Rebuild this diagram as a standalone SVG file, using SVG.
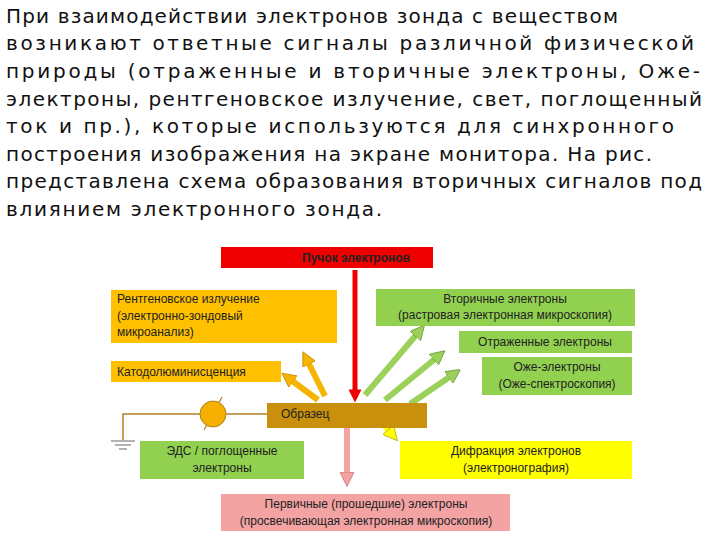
<svg xmlns="http://www.w3.org/2000/svg" width="720" height="540" viewBox="0 0 720 540">
<style>
.t{font-family:"DejaVu Sans",sans-serif;font-size:20px;fill:#111}
.b{font-family:"Liberation Sans",Arial,sans-serif;font-size:12px;fill:#222}
.c{text-anchor:middle}
.or{fill:#ffc000}.gr{fill:#92d050}.ye{fill:#ffff00}.pk{fill:#f4a3a3}
</style>
<defs>
<marker id="ao" viewBox="0 0 10 10" refX="2" refY="5" markerWidth="2.4" markerHeight="2.4" orient="auto"><path d="M0,0L10,5L0,10z" fill="#f5b400" stroke="#c08000" stroke-width="0.5"/></marker>
<marker id="ag" viewBox="0 0 10 10" refX="2" refY="5" markerWidth="2.4" markerHeight="2.4" orient="auto"><path d="M0,0L10,5L0,10z" fill="#9bd15a" stroke="#5f8f2f" stroke-width="0.5"/></marker>
<marker id="ar" viewBox="0 0 10 10" refX="2" refY="5" markerWidth="3" markerHeight="2.6" orient="auto"><path d="M0,0L10,5L0,10z" fill="#ee0000"/></marker>
<marker id="ap" viewBox="0 0 10 10" refX="2" refY="5" markerWidth="2.6" markerHeight="2.4" orient="auto"><path d="M0,0L10,5L0,10z" fill="#f4a3a3" stroke="#c07070" stroke-width="0.5"/></marker>
<marker id="ay" viewBox="0 0 10 10" refX="2" refY="5" markerWidth="2.6" markerHeight="2.4" orient="auto"><path d="M0,0L10,5L0,10z" fill="#ffff00" stroke="#b0a000" stroke-width="0.5"/></marker>
</defs>
<g id="intro" class="t">
<text x="6" y="23" textLength="612" lengthAdjust="spacing">При взаимодействии электронов зонда с веществом</text>
<text x="6" y="50" textLength="688" lengthAdjust="spacing">возникают ответные сигналы различной  физической</text>
<text x="6" y="78" textLength="694" lengthAdjust="spacing">природы (отраженные и  вторичные  электроны,  Оже-</text>
<text x="6" y="106" textLength="696" lengthAdjust="spacing">электроны, рентгеновское  излучение,  свет,  поглощенный</text>
<text x="6" y="133" textLength="668" lengthAdjust="spacing">ток  и  пр.),  которые  используются  для синхронного</text>
<text x="6" y="161" textLength="646" lengthAdjust="spacing">построения изображения на экране монитора. На рис.</text>
<text x="6" y="188" textLength="696" lengthAdjust="spacing">представлена схема образования вторичных сигналов под</text>
<text x="6" y="216" textLength="376" lengthAdjust="spacing">влиянием электронного зонда.</text>
</g>
<g id="connectors">
<line x1="355" y1="270" x2="355" y2="392" stroke="#ee0000" stroke-width="5" marker-end="url(#ar)"/>
<line x1="347" y1="412" x2="347" y2="475" stroke="#f4a3a3" stroke-width="6" marker-end="url(#ap)"/>
<line x1="373" y1="412" x2="390" y2="432" stroke="#ffff00" stroke-width="6" marker-end="url(#ay)"/>
<line x1="325" y1="396" x2="308" y2="362" stroke="#f5b400" stroke-width="6" marker-end="url(#ao)"/>
<line x1="318" y1="400" x2="291" y2="380" stroke="#f5b400" stroke-width="6" marker-end="url(#ao)"/>
<line x1="365" y1="395" x2="417" y2="334" stroke="#9bd15a" stroke-width="6" marker-end="url(#ag)"/>
<line x1="385" y1="400" x2="436" y2="358" stroke="#9bd15a" stroke-width="6" marker-end="url(#ag)"/>
<line x1="410" y1="404" x2="451" y2="376" stroke="#9bd15a" stroke-width="6" marker-end="url(#ag)"/>
<polyline points="267,414 123,414 123,440" fill="none" stroke="#b08020" stroke-width="1.5"/>
<line x1="111" y1="441" x2="135" y2="441" stroke="#999" stroke-width="1.5"/>
<line x1="115" y1="445" x2="131" y2="445" stroke="#999" stroke-width="1.5"/>
<line x1="119" y1="449" x2="127" y2="449" stroke="#999" stroke-width="1.5"/>
<line x1="204" y1="430" x2="222" y2="397" stroke="#b08020" stroke-width="1.2"/>
</g>
<g id="beam"><rect x="221" y="247" width="212" height="21" fill="#ee0000"/><text class="b c" x="356" y="262" font-weight="bold">Пучок электронов</text></g>
<g id="xray"><rect class="or" x="111" y="290" width="226" height="53"/><text class="b" x="117" y="303">Рентгеновское излучение</text><text class="b" x="117" y="320">(электронно-зондовый</text><text class="b" x="117" y="336">микроанализ)</text></g>
<g id="cathodo"><rect class="or" x="111" y="361" width="170" height="21"/><text class="b" x="117" y="376">Катодолюминисценция</text></g>
<g id="secondary"><rect class="gr" x="376" y="289" width="259" height="37"/><text class="b c" x="505" y="303">Вторичные электроны</text><text class="b c" x="505" y="319">(растровая электронная микроскопия)</text></g>
<g id="reflected"><rect class="gr" x="459" y="331" width="173" height="22"/><text class="b c" x="545" y="346">Отраженные электроны</text></g>
<g id="auger"><rect class="gr" x="482" y="357" width="150" height="38"/><text class="b c" x="557" y="371">Оже-электроны</text><text class="b c" x="557" y="388">(Оже-спектроскопия)</text></g>
<g id="sample"><rect x="267" y="403" width="160" height="25" fill="#c8900c"/><text class="b" x="281" y="418">Образец</text></g>
<g id="meter"><circle cx="213" cy="414" r="13" fill="#f5b000" stroke="#b08020" stroke-width="1"/></g>
<g id="emf"><rect class="gr" x="140" y="441" width="164" height="38"/><text class="b c" x="222" y="455">ЭДС / поглощенные</text><text class="b c" x="222" y="472">электроны</text></g>
<g id="diffraction"><rect class="ye" x="400" y="441" width="232" height="38"/><text class="b c" x="516" y="455">Дифракция электронов</text><text class="b c" x="516" y="472">(электронография)</text></g>
<g id="primary"><rect class="pk" x="221" y="494" width="289" height="37"/><text class="b c" x="366" y="508">Первичные (прошедшие) электроны</text><text class="b c" x="366" y="525">(просвечивающая электронная микроскопия)</text></g>
</svg>
